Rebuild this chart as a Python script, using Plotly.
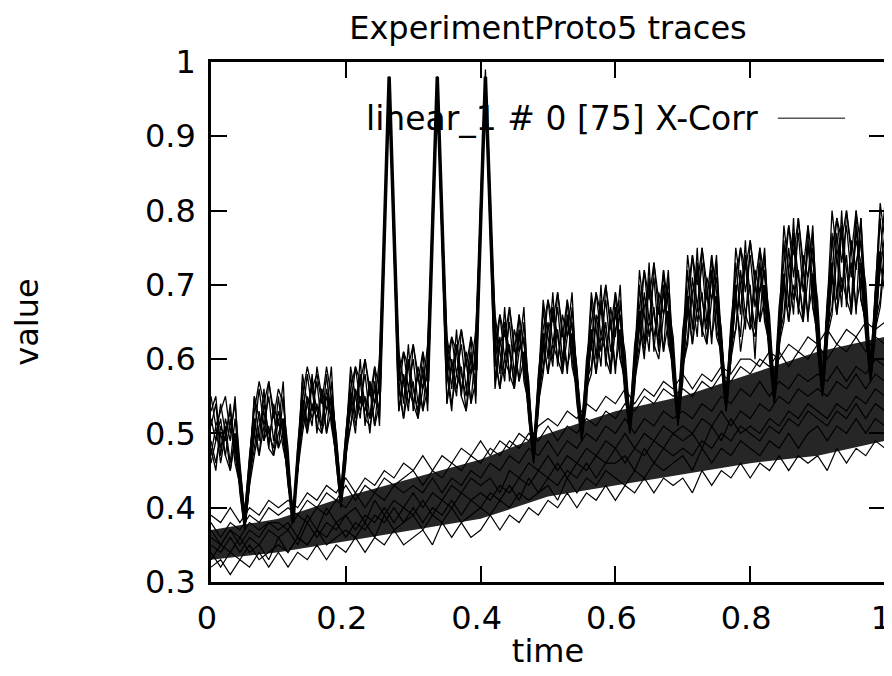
import plotly.graph_objects as go

# ---------------- data (values in hundredths) ----------------
N_STEPS = 140
TIME = [i / N_STEPS for i in range(N_STEPS + 1)]

EVENT_IDX = [7, 17, 27, 37, 47, 57, 67, 77, 87, 97, 107, 117, 127, 137]
EVENT_VAL = [38, 38, 41, 98, 98, 98, 47, 50, 51, 52, 54, 55, 56, 58]
SEG_CENTER = [50, 52, 54.5, 55.5, 57, 58.5, 61, 63.5, 64, 66.5, 68.5, 70, 71.5, 73, 74.5]

PAT_A = [52, 49, 54, 50, 53, 48, 44, 38,
         45, 50, 56, 51, 55, 49, 53, 50, 44, 38,
         46, 52, 58, 53, 57, 51, 55, 52, 48, 41,
         49, 53, 59, 54, 58, 52, 56, 53, 77, 98,
         77, 55, 61, 56, 60, 54, 58, 55, 78, 98,
         78, 57, 63, 58, 62, 56, 60, 57, 80, 98,
         80, 59, 66, 60, 65, 58, 63, 60, 55, 47,
         56, 61, 68, 62, 67, 60, 65, 62, 58, 50,
         58, 62, 69, 63, 68, 61, 66, 63, 59, 51,
         60, 64, 72, 65, 71, 63, 69, 65, 61, 52,
         62, 66, 74, 67, 73, 65, 71, 67, 63, 54,
         64, 68, 75, 69, 74, 67, 72, 68, 64, 55,
         65, 70, 78, 71, 77, 69, 75, 71, 66, 56,
         67, 72, 79, 73, 78, 71, 76, 73, 68, 58,
         69, 74, 81]
PAT_B = [47, 51, 46, 50, 45, 49, 43, 37,
         43, 52, 47, 51, 49, 53, 48, 50, 43, 39,
         45, 55, 50, 54, 52, 56, 50, 53, 46, 40,
         46, 56, 51, 55, 53, 57, 51, 54, 75, 97,
         75, 57, 52, 56, 54, 58, 53, 56, 76, 97,
         76, 59, 54, 58, 56, 60, 54, 57, 77, 98,
         78, 61, 56, 60, 58, 62, 57, 60, 52, 46,
         53, 63, 58, 62, 60, 64, 59, 62, 54, 49,
         54, 64, 58, 63, 61, 65, 59, 63, 55, 50,
         56, 66, 61, 65, 63, 67, 61, 65, 57, 51,
         57, 68, 62, 67, 64, 69, 63, 67, 59, 53,
         60, 69, 61, 66, 64, 70, 65, 68, 60, 54,
         61, 71, 65, 70, 67, 72, 66, 70, 61, 55,
         62, 72, 66, 71, 68, 73, 67, 71, 63, 57,
         63, 73, 69]
PAT_C = [55, 51, 53, 55, 50, 54, 46, 39,
         47, 53, 57, 54, 57, 52, 56, 54, 48, 38,
         48, 55, 59, 56, 58, 54, 59, 55, 50, 42,
         50, 56, 59, 57, 60, 55, 59, 56, 78, 98,
         79, 58, 61, 59, 62, 57, 61, 58, 80, 98,
         80, 60, 63, 61, 64, 59, 63, 60, 81, 99,
         82, 62, 66, 63, 67, 61, 66, 62, 57, 47,
         58, 64, 68, 65, 69, 63, 68, 64, 59, 50,
         60, 65, 69, 66, 70, 64, 69, 65, 61, 52,
         62, 67, 72, 68, 73, 66, 72, 67, 63, 53,
         64, 69, 74, 70, 75, 68, 74, 69, 64, 54,
         65, 71, 75, 72, 76, 70, 75, 71, 66, 56,
         67, 73, 78, 74, 79, 72, 78, 73, 68, 57,
         68, 75, 79, 76, 80, 74, 80, 75, 70, 59,
         70, 80, 80]
PAT_D = [49, 46, 50, 47, 52, 46, 43, 38,
         44, 48, 53, 49, 51, 47, 52, 48, 45, 39,
         46, 51, 55, 52, 54, 50, 56, 52, 47, 41,
         48, 51, 56, 53, 55, 50, 57, 52, 76, 98,
         76, 53, 58, 54, 57, 52, 59, 54, 77, 97,
         76, 54, 60, 56, 59, 53, 61, 55, 78, 98,
         79, 57, 63, 58, 62, 56, 64, 58, 54, 48,
         55, 59, 65, 60, 64, 58, 66, 60, 56, 51,
         57, 59, 66, 61, 65, 58, 67, 60, 58, 51,
         58, 62, 69, 63, 67, 61, 70, 63, 59, 52,
         59, 63, 71, 65, 69, 62, 72, 64, 61, 55,
         62, 64, 72, 66, 70, 60, 73, 65, 62, 55,
         63, 66, 75, 68, 72, 65, 76, 67, 63, 56,
         64, 67, 77, 69, 74, 66, 78, 68, 65, 58,
         65, 68, 76]
PAT_E = [51, 54, 47, 52, 49, 55, 44, 38,
         45, 55, 49, 56, 48, 54, 51, 57, 44, 38,
         45, 57, 51, 58, 50, 56, 53, 59, 47, 41,
         47, 58, 52, 60, 51, 57, 54, 60, 76, 98,
         77, 60, 54, 62, 53, 59, 56, 62, 77, 98,
         77, 62, 56, 64, 55, 61, 58, 64, 78, 98,
         78, 65, 58, 67, 57, 64, 61, 67, 54, 47,
         55, 67, 60, 69, 59, 66, 63, 69, 56, 50,
         56, 68, 60, 70, 59, 67, 63, 70, 57, 51,
         57, 70, 62, 73, 61, 69, 66, 72, 58, 52,
         59, 72, 64, 75, 63, 71, 68, 74, 60, 54,
         61, 73, 66, 76, 64, 72, 69, 75, 61, 55,
         62, 76, 67, 79, 66, 74, 71, 78, 63, 56,
         63, 77, 68, 80, 67, 76, 72, 79, 64, 58,
         66, 79, 71]
PAT_F = [46, 49, 52, 47, 45, 50, 42, 37,
         43, 47, 51, 53, 48, 47, 50, 52, 44, 38,
         45, 50, 54, 56, 51, 50, 53, 55, 47, 42,
         47, 51, 55, 57, 52, 51, 54, 56, 75, 97,
         76, 53, 57, 59, 54, 52, 56, 58, 76, 98,
         76, 54, 59, 61, 55, 53, 58, 60, 77, 97,
         77, 56, 62, 64, 58, 56, 61, 63, 53, 46,
         54, 58, 64, 66, 60, 58, 63, 65, 55, 49,
         56, 58, 65, 67, 60, 58, 64, 66, 56, 50,
         57, 61, 67, 70, 62, 60, 66, 69, 58, 52,
         59, 62, 69, 72, 64, 62, 68, 71, 60, 53,
         60, 64, 70, 73, 65, 63, 69, 72, 61, 54,
         62, 65, 72, 76, 67, 65, 71, 75, 62, 55,
         63, 66, 74, 77, 68, 66, 73, 76, 64, 57,
         64, 67, 74]
PAT_G = [53, 55, 48, 51, 46, 52, 45, 38,
         46, 55, 52, 49, 57, 53, 48, 55, 46, 39,
         46, 58, 54, 51, 59, 55, 50, 57, 49, 41,
         49, 59, 55, 52, 60, 56, 51, 58, 77, 98,
         78, 61, 57, 53, 62, 58, 53, 60, 79, 98,
         79, 63, 59, 55, 64, 60, 54, 62, 80, 98,
         80, 66, 61, 57, 67, 62, 57, 65, 56, 47,
         57, 68, 63, 59, 69, 64, 58, 67, 58, 50,
         58, 69, 64, 59, 70, 65, 58, 68, 59, 51,
         60, 72, 66, 61, 73, 68, 61, 71, 61, 52,
         62, 74, 68, 63, 75, 70, 62, 73, 63, 54,
         63, 75, 70, 64, 76, 71, 65, 74, 64, 55,
         65, 78, 72, 66, 79, 73, 65, 77, 66, 56,
         67, 80, 74, 67, 80, 75, 66, 79, 68, 58,
         69, 81, 76]
PAT_H = [48, 45, 51, 49, 54, 47, 43, 38,
         44, 50, 47, 54, 50, 48, 55, 49, 44, 38,
         46, 53, 50, 57, 53, 51, 58, 51, 47, 41,
         48, 54, 50, 58, 54, 52, 59, 51, 76, 97,
         76, 56, 52, 60, 56, 53, 61, 53, 77, 98,
         77, 58, 53, 62, 58, 55, 63, 54, 78, 98,
         79, 60, 56, 65, 61, 57, 66, 57, 54, 47,
         55, 62, 58, 67, 63, 59, 68, 59, 56, 50,
         56, 62, 58, 68, 63, 59, 69, 60, 57, 51,
         58, 65, 60, 71, 66, 62, 72, 62, 59, 52,
         60, 67, 62, 73, 68, 64, 74, 63, 61, 54,
         61, 68, 63, 74, 69, 64, 75, 66, 62, 55,
         63, 70, 65, 77, 71, 66, 78, 67, 64, 56,
         64, 71, 66, 78, 72, 67, 80, 68, 65, 58,
         66, 72, 77]
PATTERNS = [PAT_A, PAT_B, PAT_C, PAT_D, PAT_E, PAT_F, PAT_G, PAT_H]

BAND_TIME = [j / 70 for j in range(71)]
BAND_1 = [32, 33, 31, 33, 32, 34, 32, 34, 32, 34, 33, 35, 33, 35, 34, 36, 34, 36, 35, 37, 35,
          36, 37, 35, 38, 36, 38, 36, 37, 39, 37, 39, 38, 40, 39, 41, 40, 42, 40, 42, 41, 43,
          41, 43, 42, 44, 42, 44, 43, 44, 42, 45, 43, 45, 44, 46, 44, 46, 45, 47, 45, 47, 46,
          47, 45, 48, 46, 48, 47, 49, 48]
BAND_2 = [34, 32, 34, 33, 35, 33, 34, 35, 34, 36, 35, 37, 35, 36, 37, 36, 38, 36, 39, 37, 38,
          39, 37, 39, 38, 40, 38, 39, 40, 39, 41, 40, 42, 41, 42, 43, 41, 44, 42, 44, 43, 45,
          44, 43, 45, 44, 46, 45, 46, 47, 45, 48, 46, 48, 47, 49, 48, 47, 49, 48, 50, 48, 50,
          51, 49, 51, 50, 52, 50, 52, 51]
BAND_3 = [35, 34, 36, 34, 36, 35, 37, 36, 37, 35, 38, 36, 38, 37, 39, 37, 39, 38, 40, 38, 40,
          39, 41, 39, 41, 40, 42, 41, 42, 41, 43, 42, 44, 43, 45, 44, 46, 44, 46, 45, 47, 46,
          48, 46, 48, 47, 49, 48, 50, 49, 50, 48, 51, 49, 52, 50, 51, 50, 52, 51, 53, 52, 54,
          53, 52, 54, 53, 55, 54, 56, 55]
BAND_4 = [36, 35, 37, 35, 37, 36, 38, 37, 38, 36, 39, 37, 40, 38, 39, 40, 38, 41, 39, 41, 40,
          42, 40, 42, 41, 43, 42, 44, 43, 44, 42, 45, 44, 46, 45, 47, 45, 47, 46, 48, 47, 49,
          48, 50, 48, 50, 49, 51, 50, 51, 50, 52, 51, 53, 51, 53, 52, 54, 53, 55, 54, 56, 55,
          56, 55, 57, 56, 58, 56, 58, 57]
BAND_5 = [37, 35, 37, 36, 38, 37, 38, 38, 37, 39, 38, 40, 39, 41, 40, 42, 40, 42, 41, 43, 42,
          43, 42, 44, 42, 44, 43, 45, 44, 46, 45, 47, 46, 48, 47, 49, 47, 49, 48, 50, 49, 51,
          50, 52, 50, 52, 51, 53, 52, 53, 52, 54, 53, 55, 54, 56, 55, 57, 55, 57, 56, 58, 57,
          58, 57, 59, 57, 59, 58, 60, 59]
BAND_6 = [38, 36, 38, 37, 39, 38, 40, 39, 40, 39, 41, 40, 42, 41, 43, 41, 43, 42, 44, 43, 44,
          45, 43, 45, 44, 46, 45, 47, 46, 48, 47, 49, 48, 50, 49, 51, 49, 51, 50, 52, 51, 53,
          52, 54, 53, 55, 54, 56, 55, 56, 55, 57, 56, 58, 57, 59, 58, 60, 59, 61, 59, 61, 60,
          62, 60, 62, 61, 63, 61, 63, 62]
BAND_7 = [39, 38, 40, 38, 40, 39, 41, 40, 41, 40, 42, 41, 43, 42, 44, 42, 44, 43, 45, 44, 46,
          45, 47, 45, 47, 46, 48, 47, 49, 47, 49, 48, 50, 49, 51, 52, 51, 53, 52, 54, 53, 55,
          54, 56, 54, 56, 55, 57, 56, 58, 56, 58, 57, 59, 58, 60, 60, 59, 61, 60, 62, 61, 63,
          62, 64, 62, 64, 63, 65, 64, 65]
BAND_8 = [33, 35, 34, 36, 34, 35, 33, 36, 34, 36, 35, 37, 36, 38, 36, 38, 37, 39, 38, 40, 38,
          40, 38, 40, 39, 41, 39, 41, 40, 42, 41, 43, 41, 44, 42, 44, 43, 45, 44, 46, 44, 46,
          46, 47, 45, 48, 46, 48, 47, 48, 47, 49, 48, 50, 49, 51, 50, 49, 51, 50, 52, 51, 53,
          52, 51, 53, 52, 54, 52, 54, 53]
BANDS = [BAND_1, BAND_2, BAND_3, BAND_4, BAND_5, BAND_6, BAND_7, BAND_8]

# dense core of the lower bundle (inner envelope, read every 0.1)
CORE_TIME = [0.0, 0.1, 0.2, 0.3, 0.4, 0.5, 0.6, 0.7, 0.8, 0.9, 1.0]
CORE_LO = [33, 34, 35.5, 37, 38.5, 41.5, 43, 44.5, 46, 47, 49]
CORE_HI = [37, 38.5, 41.5, 44, 46.5, 50, 53, 55, 58, 61, 63]

X_TICKS = [0, 0.2, 0.4, 0.6, 0.8, 1]
X_LABELS = ["0", "0.2", "0.4", "0.6", "0.8", "1"]
Y_TICKS = [0.3, 0.4, 0.5, 0.6, 0.7, 0.8, 0.9, 1.0]
Y_LABELS = ["0.3", "0.4", "0.5", "0.6", "0.7", "0.8", "0.9", "1"]

TITLE = "ExperimentProto5 traces"
LEGEND_TEXT = "linear_1 # 0 [75] X-Corr"

# ---------------- figure ----------------
FONT = dict(family="DejaVu Sans", size=32, color="black")
fig = go.Figure()

fig.add_trace(go.Scatter(
    x=CORE_TIME + CORE_TIME[::-1],
    y=[v / 100 for v in CORE_LO] + [v / 100 for v in CORE_HI[::-1]],
    fill="toself", fillcolor="#262626", mode="lines", line=dict(width=0),
    showlegend=False, hoverinfo="skip"))

for band in BANDS:
    fig.add_trace(go.Scatter(x=BAND_TIME, y=[v / 100 for v in band], mode="lines",
                             line=dict(color="black", width=1.2), showlegend=False))

for pat in PATTERNS:
    fig.add_trace(go.Scatter(x=TIME[:len(pat)], y=[v / 100 for v in pat], mode="lines",
                             line=dict(color="black", width=1.3), showlegend=False))

# converging bundle at each jump (where all traces meet)
leg_x, leg_y = [], []
for k, d in enumerate(EVENT_IDX):
    leg_x += [TIME[d - 2], TIME[d], TIME[min(d + 2, N_STEPS)], None]
    leg_y += [SEG_CENTER[k] / 100, EVENT_VAL[k] / 100, SEG_CENTER[k + 1] / 100, None]
fig.add_trace(go.Scatter(x=leg_x, y=leg_y, mode="lines", connectgaps=False,
                         line=dict(color="black", width=3.5), showlegend=False))

axis_common = dict(ticks="inside", ticklen=16, tickwidth=2, tickcolor="black",
                   showline=True, linewidth=2.5, linecolor="black", mirror="ticks",
                   showgrid=False, zeroline=False, tickfont=FONT, automargin=False,
                   ticklabeloverflow="allow")

# page body adds an 8px offset, so the figure is 8px smaller than the window
fig.update_layout(
    width=884, height=668,
    paper_bgcolor="white", plot_bgcolor="white",
    margin=dict(l=203, r=7, t=54, b=94),
    font=FONT,
    title=dict(text=TITLE, font=FONT, x=0.5, xref="paper", xanchor="center",
               y=1 - 20 / 668, yref="container", yanchor="middle", automargin=False),
    xaxis=dict(range=[0, 1], tickvals=X_TICKS, ticktext=X_LABELS,
               title=dict(text="time", font=FONT, standoff=4), ticklabelstandoff=6,
               ticklabelshift=-4, **axis_common),
    yaxis=dict(range=[0.3, 1], tickvals=Y_TICKS, ticktext=Y_LABELS,
               title=dict(text="value", font=FONT, standoff=103), ticklabelstandoff=6,
               **axis_common),
    showlegend=False,
    annotations=[dict(text=LEGEND_TEXT, xref="paper", yref="paper", x=0.8145, y=0.892,
                      xanchor="right", yanchor="middle", showarrow=False,
                      font=dict(family="DejaVu Sans", size=33, color="black"))],
    shapes=[dict(type="line", xref="paper", yref="paper", x0=0.841, x1=0.9407,
                 y0=0.892, y1=0.892, line=dict(color="black", width=1))],
)

fig.write_html("out.html")
